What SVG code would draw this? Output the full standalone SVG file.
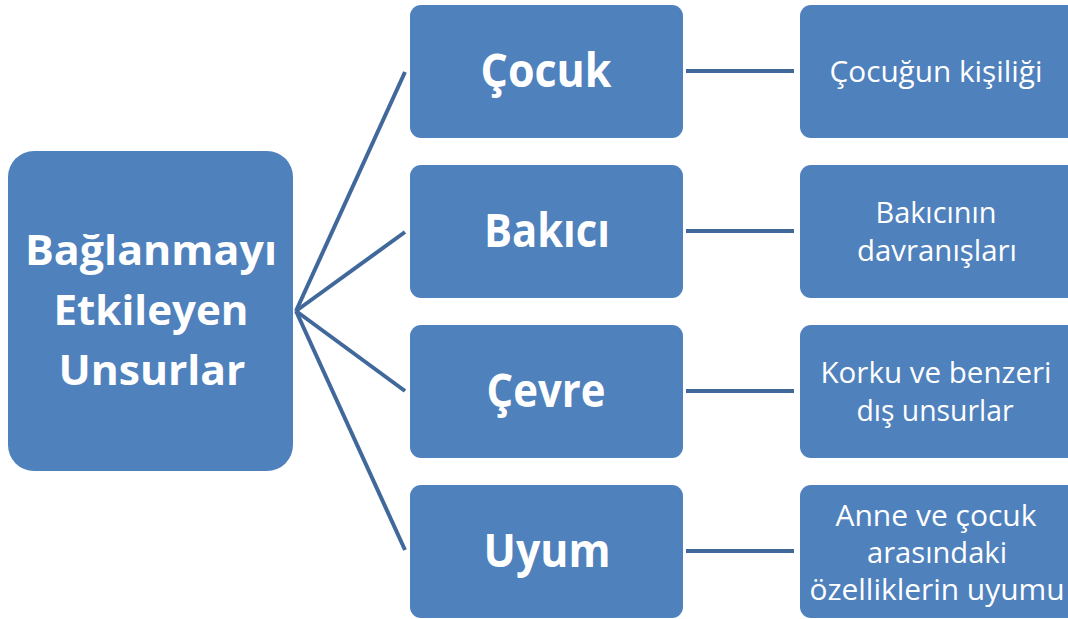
<svg xmlns="http://www.w3.org/2000/svg" width="1068" height="619" viewBox="0 0 1068 619">
<style>
.box{fill:#4F81BD;}
.conn{stroke:#41689A;stroke-width:4;fill:none;}
.t{font-family:"Open Sans","Liberation Sans",sans-serif;fill:#fff;text-anchor:middle;}
.big{font-size:42px;font-weight:bold;}
.mid{font-size:46px;font-weight:bold;}
.sm{font-size:29px;}
</style>
<rect width="1068" height="619" fill="#fff"/>
<g id="connectors">
<line class="conn" x1="296" y1="311" x2="405" y2="72"/>
<line class="conn" x1="296" y1="311" x2="405" y2="232"/>
<line class="conn" x1="296" y1="311" x2="405" y2="391"/>
<line class="conn" x1="296" y1="311" x2="405" y2="550"/>
<line class="conn" x1="686" y1="71" x2="794" y2="71"/>
<line class="conn" x1="686" y1="231" x2="794" y2="231"/>
<line class="conn" x1="686" y1="391" x2="794" y2="391"/>
<line class="conn" x1="686" y1="551" x2="794" y2="551"/>
</g>
<g id="root">
<rect class="box" x="8" y="151" width="285" height="320" rx="26"/>
<text class="t big" x="151" y="265" textLength="252" lengthAdjust="spacingAndGlyphs">Bağlanmayı</text>
<text class="t big" x="151" y="325" textLength="195" lengthAdjust="spacingAndGlyphs">Etkileyen</text>
<text class="t big" x="152" y="385" textLength="187" lengthAdjust="spacingAndGlyphs">Unsurlar</text>
</g>
<g id="cocuk">
<rect class="box" x="410" y="5" width="273" height="133" rx="11"/>
<text class="t mid" x="546" y="87" textLength="131" lengthAdjust="spacingAndGlyphs">Çocuk</text>
</g>
<g id="bakici">
<rect class="box" x="410" y="165" width="273" height="133" rx="11"/>
<text class="t mid" x="547" y="247" textLength="126" lengthAdjust="spacingAndGlyphs">Bakıcı</text>
</g>
<g id="cevre">
<rect class="box" x="410" y="325" width="273" height="133" rx="11"/>
<text class="t mid" x="546" y="407" textLength="119" lengthAdjust="spacingAndGlyphs">Çevre</text>
</g>
<g id="uyum">
<rect class="box" x="410" y="485" width="273" height="133" rx="11"/>
<text class="t mid" x="547" y="567" textLength="127" lengthAdjust="spacingAndGlyphs">Uyum</text>
</g>
<g id="kisilik">
<rect class="box" x="800" y="5" width="290" height="133" rx="11"/>
<text class="t sm" x="936" y="82" textLength="213" lengthAdjust="spacingAndGlyphs">Çocuğun kişiliği</text>
</g>
<g id="davranis">
<rect class="box" x="800" y="165" width="290" height="133" rx="11"/>
<text class="t sm" x="936" y="223" textLength="121" lengthAdjust="spacingAndGlyphs">Bakıcının</text>
<text class="t sm" x="937" y="261" textLength="160" lengthAdjust="spacingAndGlyphs">davranışları</text>
</g>
<g id="korku">
<rect class="box" x="800" y="325" width="290" height="133" rx="11"/>
<text class="t sm" x="936" y="383" textLength="231" lengthAdjust="spacingAndGlyphs">Korku ve benzeri</text>
<text class="t sm" x="935" y="421" textLength="157" lengthAdjust="spacingAndGlyphs">dış unsurlar</text>
</g>
<g id="anne">
<rect class="box" x="800" y="485" width="290" height="133" rx="11"/>
<text class="t sm" x="936" y="526" textLength="201" lengthAdjust="spacingAndGlyphs">Anne ve çocuk</text>
<text class="t sm" x="937" y="563" textLength="140" lengthAdjust="spacingAndGlyphs">arasındaki</text>
<text class="t sm" x="937" y="600" textLength="255" lengthAdjust="spacingAndGlyphs">özelliklerin uyumu</text>
</g>
</svg>
